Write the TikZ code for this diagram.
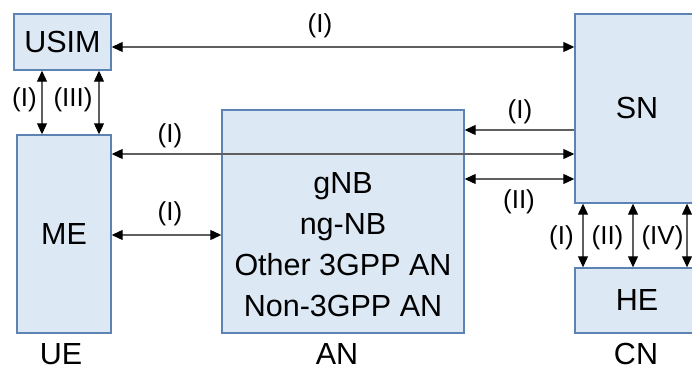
\documentclass[tikz,border=0pt]{standalone}
\usepackage{fontspec}
\setmainfont{Liberation Sans}
\usetikzlibrary{arrows.meta,positioning,calc}
\definecolor{boxfill}{RGB}{221,232,245}
\definecolor{boxline}{RGB}{92,131,178}
\definecolor{linkcolor}{RGB}{95,95,95}

\begin{document}
\begin{tikzpicture} [
			x=1pt,y=-1pt,
			entity/.style={rectangle,draw=boxline,fill=boxfill,line width=1.4pt,inner sep=0pt,font=\fontsize{30.5}{41}\selectfont},
			areatext/.style={inner sep=0pt,font=\fontsize{30.5}{35}\selectfont},
			iface/.style={inner sep=0pt,font=\fontsize{26}{31}\selectfont},
			link/.style={draw=linkcolor,line width=1.1pt},
			both/.style={link,{Triangle[length=11pt,width=10pt,color=black]}-{Triangle[length=11pt,width=10pt,color=black]}},
			one/.style={link,-{Triangle[length=11pt,width=10pt,color=black]}},
		]
		\useasboundingbox (0,0) rectangle (692,371);
		
		% boxes
		\node[entity,minimum width=97pt,minimum height=56pt] (usim) at (62.5,42) {USIM};
		\node[entity,minimum width=94pt,minimum height=198pt] (me) at (64,234) {ME};
		\node[entity,minimum width=242pt,minimum height=223pt] (an) at (343,221.5) {};
		\node[entity,minimum width=124pt,minimum height=189pt] (sn) at (637,108.5) {SN};
		\node[entity,minimum width=124pt,minimum height=65pt] (he) at (637,300.5) {HE};
		\node[areatext,align=center,font=\fontsize{30.5}{41}\selectfont] (anlist) at (343,245) {gNB\\ng-NB\\Other 3GPP AN\\Non-3GPP AN};
		
		% domains
		\node[areatext] (ue) at (61,354) {UE};
		\node[areatext] (andom) at (337,354) {AN};
		\node[areatext] (cn) at (636,354) {CN};
		
		% horizontal links
		\draw[both] ([yshift=-5pt]usim.east) -- ([yshift=-5pt]usim.east -| sn.west);
		\draw[one] ([yshift=91.5pt]an.east -| sn.west) -- ([yshift=91.5pt]an.east);
		\draw[both] ([yshift=80pt]me.east) -- ([yshift=80pt]me.east -| sn.west);
		\draw[both] ([yshift=42.5pt]an.east) -- ([yshift=42.5pt]an.east -| sn.west);
		\draw[both] ([yshift=-1pt]me.east) -- ([yshift=-1pt]me.east -| an.west);
		
		% vertical links
		\draw[both] (usim.south -| 42,0) -- (me.north -| 42,0);
		\draw[both] (usim.south -| 99,0) -- (me.north -| 99,0);
		\foreach \xx in {583,633,687}
			\draw[both] (sn.south -| \xx,0) -- (he.north -| \xx,0);
		
		% interface labels
		\node[iface] (l1) at (320,26) {(I)};
		\node[iface] (l2) at (520,112) {(I)};
		\node[iface] (l3) at (170,136) {(I)};
		\node[iface] (l4) at (519,202) {(II)};
		\node[iface] (l5) at (170,214) {(I)};
		\node[iface] (l6) at (24.5,99.5) {(I)};
		\node[iface] (l7) at (73,99.5) {(III)};
		\node[iface] (l8) at (561.5,237.5) {(I)};
		\node[iface] (l9) at (607.5,237.5) {(II)};
		\node[iface] (l10) at (662.5,237.5) {(IV)};
		
	\end{tikzpicture}
\end{document}
